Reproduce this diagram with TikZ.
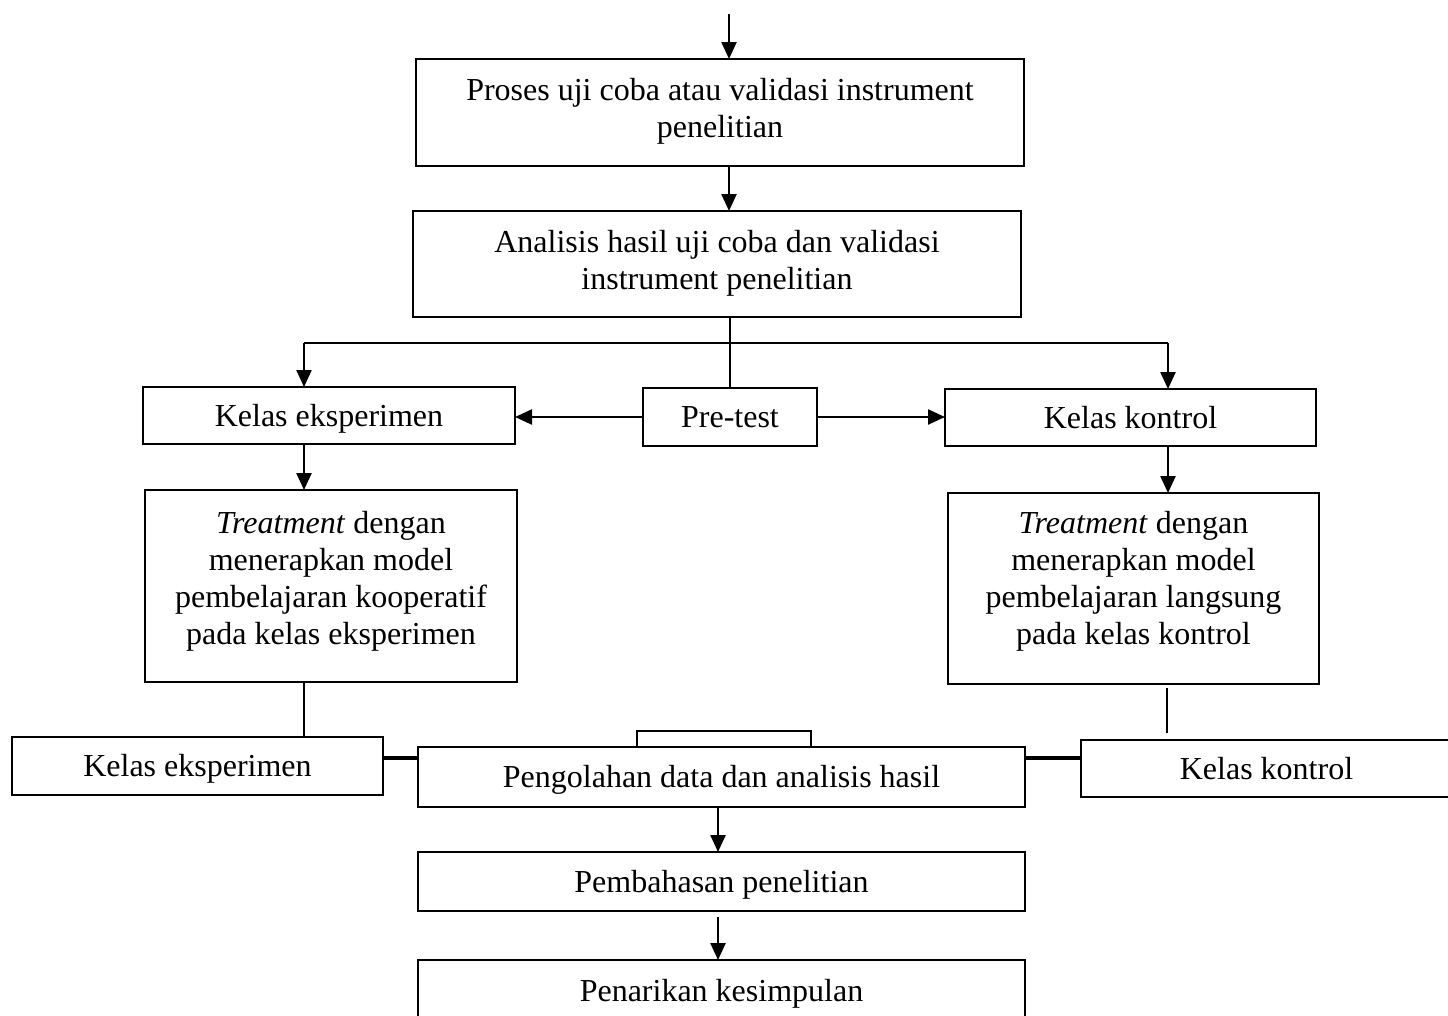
\documentclass[tikz,border=0pt]{standalone}
\usepackage{fontspec}
\setmainfont{Liberation Serif}
\usetikzlibrary{arrows.meta}
\begin{document}
\begin{tikzpicture}[x=1pt,y=-1pt,
  box/.style={draw,line width=2.4pt,inner sep=0pt,outer sep=0pt,align=center,text height=25pt,text depth=4pt,font=\fontsize{32}{37}\selectfont},
  txt/.style={inner sep=0pt,outer sep=0pt,align=center,font=\fontsize{32}{37}\selectfont},
  arr/.style={line width=2.4pt,-{Triangle[length=17pt,width=15pt]}},
  ln/.style={line width=2.4pt},
  thk/.style={line width=3.2pt}]
\useasboundingbox (0,0) rectangle (1448,1015);

% boxes
\node[box,minimum width=608,minimum height=107] (p1) at (720,112.5) {};
\node[txt] (p1t) at (720,111) {Proses uji coba atau validasi instrument\\penelitian};
\node[box,minimum width=608,minimum height=106] (an) at (717,264) {};
\node[txt] (ant) at (717,263) {Analisis hasil uji coba dan validasi\\instrument penelitian};
\node[box,minimum width=372,minimum height=57] (ke) at (329,415.5) {Kelas eksperimen};
\node[box,minimum width=174,minimum height=58] (pre) at (730,417) {Pre-test};
\node[box,minimum width=371,minimum height=57] (kk) at (1130.5,417.5) {Kelas kontrol};
\node[box,minimum width=372,minimum height=192] (tl) at (331,586) {};
\node[txt] (tlt) at (331,581) {\textit{Treatment} dengan\\menerapkan model\\pembelajaran kooperatif\\pada kelas eksperimen};
\node[box,minimum width=371,minimum height=191] (tr) at (1133.5,588.5) {};
\node[txt] (trt) at (1133.5,581) {\textit{Treatment} dengan\\menerapkan model\\pembelajaran langsung\\pada kelas kontrol};
\node[box,minimum width=371,minimum height=58] (ke2) at (197.5,766) {Kelas eksperimen};
\node[box,text height=0pt,text depth=0pt,minimum width=174,minimum height=16] (sb) at (724,739) {};
\node[box,minimum width=607,minimum height=60] (pg) at (721.5,777) {Pengolahan data dan analisis hasil};
\node[box,minimum width=371,minimum height=57] (kk2) at (1266.5,768.5) {Kelas kontrol};
\node[box,minimum width=607,minimum height=59] (pb) at (721.5,881.5) {Pembahasan penelitian};
\node[box,minimum width=607,minimum height=62] (pk) at (721.5,991) {Penarikan kesimpulan};

% helper coordinates
\coordinate (st) at (729,14);
\coordinate (bl) at (304,343);
\coordinate (br) at (1168,343);
\coordinate (r1) at (1167,688);
\coordinate (r2) at (1167,733);
\coordinate (hl) at (0,758);
\coordinate (bx) at (718,0);
\coordinate (bx2) at (718,917);

% connectors
\draw[arr] (st) -- (st |- p1.north);
\draw[arr] (st |- p1.south) -- (st |- an.north);
\draw[ln] (pre.north |- an.south) -- (pre.north);
\draw[ln] (bl) -- (br);
\draw[arr] (bl) -- (bl |- ke.north);
\draw[arr] (br) -- (br |- kk.north);
\draw[arr] (pre.west) -- (pre.west -| ke.east);
\draw[arr] (pre.east) -- (pre.east -| kk.west);
\draw[arr] (bl |- ke.south) -- (bl |- tl.north);
\draw[arr] (br |- kk.south) -- (br |- tr.north);
\draw[ln] (bl |- tl.south) -- (bl |- ke2.north);
\draw[ln] (r1) -- (r2);
\draw[thk] (ke2.east |- hl) -- (pg.west |- hl);
\draw[thk] (pg.east |- hl) -- (kk2.west |- hl);
\draw[arr] (bx |- pg.south) -- (bx |- pb.north);
\draw[arr] (bx2) -- (bx2 |- pk.north);
\end{tikzpicture}
\end{document}
